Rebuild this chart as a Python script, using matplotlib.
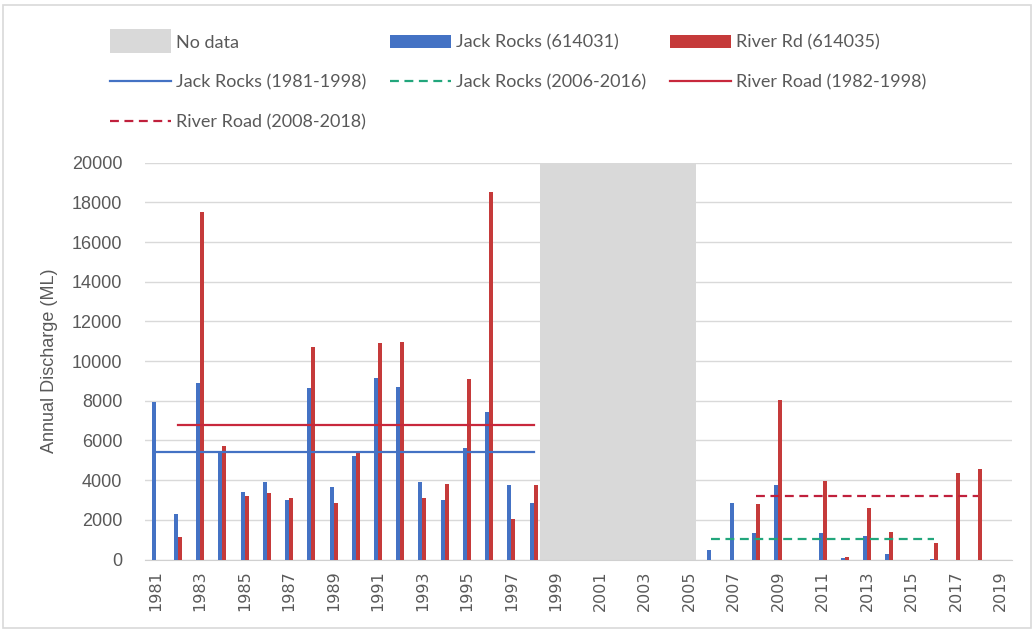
import numpy as np
import matplotlib
matplotlib.use("Agg")
import matplotlib.pyplot as plt
from matplotlib.patches import Patch, Rectangle
from matplotlib.legend_handler import HandlerPatch

nan = np.nan

years = list(range(1981, 2020))

# annual discharge (ML)
jack_rocks = [7950, 2300, 8900, 5400, 3400, 3900, 3000, 8650, 3650, 5200,
              9150, 8700, 3900, 3000, 5600, 7450, 3750, 2850,
              nan, nan, nan, nan, nan, nan, nan,
              470, 2850, 1360, 3750, nan, 1360, 60, 1200, 300, nan, 50,
              nan, nan, nan]
river_rd = [nan, 1150, 17500, 5700, 3200, 3350, 3100, 10700, 2850, 5400,
            10900, 10950, 3100, 3800, 9100, 18500, 2050, 3750,
            nan, nan, nan, nan, nan, nan, nan,
            nan, nan, 2800, 8050, nan, 3970, 110, 2620, 1400, nan, 840,
            4370, 4540, nan]

no_data_years = [1999, 2000, 2001, 2002, 2003, 2004, 2005]
no_data_value = 20000

# period means (horizontal reference lines)
means = [
    ("Jack Rocks (1981-1998)", 1981, 1998, 5400, "#4472C4", "-"),
    ("Jack Rocks (2006-2016)", 2006, 2016, 1030, "#22A67C", "--"),
    ("River Road (1982-1998)", 1982, 1998, 6770, "#C8283C", "-"),
    ("River Road (2008-2018)", 2008, 2018, 3190, "#C0203C", "--"),
]

blue = "#4472C4"
red = "#C53A3A"
grey_fill = "#D9D9D9"
text_col = "#595959"

fig = plt.figure(figsize=(10.36, 6.3), dpi=100)
ax = fig.add_axes([0.1396, 0.1119, 0.8368, 0.6298])

x = np.arange(len(years))
w = 0.18

nd_idx = [years.index(y) for y in no_data_years]
ax.bar(np.array(nd_idx) - 0.2, [no_data_value] * len(nd_idx), width=1.0,
       color=grey_fill, zorder=1)
ax.bar(x - w / 2, jack_rocks, width=w, color=blue, zorder=3)
ax.bar(x + w / 2, river_rd, width=w, color=red, zorder=3)

line_handles = {}
for label, y0, y1, val, col, ls in means:
    idx = np.arange(years.index(y0), years.index(y1) + 1)
    kw = dict(color=col, lw=1.6, zorder=4)
    if ls == "--":
        kw["dashes"] = (4, 2.5)
    ln, = ax.plot(idx, [val] * len(idx), **kw)
    line_handles[label] = ln

ax.set_xlim(-0.5, len(years) - 0.5)
ax.set_ylim(0, 20000)
ax.set_yticks(np.arange(0, 20001, 2000))
ax.set_xticks(x[::2])
ax.set_xticklabels([str(y) for y in years[::2]], rotation=90,
                   fontsize=11.5, color=text_col, family="DejaVu Sans")
ax.tick_params(axis="x", length=0, pad=8)
ax.tick_params(axis="y", length=0, pad=16, labelcolor=text_col)
for lab in ax.get_yticklabels():
    lab.set_family("Liberation Sans")
    lab.set_fontsize(13)

ax.grid(axis="y", color="#D9D9D9", lw=1.0, zorder=0)
ax.set_axisbelow(True)
for s in ["top", "right", "left"]:
    ax.spines[s].set_visible(False)
ax.spines["bottom"].set_color("#D0D0D0")

ax.set_ylabel("Annual Discharge (ML)", fontsize=13, color=text_col,
              family="Liberation Sans", labelpad=10)


def tall_patch(legend, orig_handle, xdescent, ydescent, width, height, fontsize):
    return Rectangle((-xdescent, -ydescent - 0.45 * height), width, 1.9 * height)


h_nd = Patch(facecolor=grey_fill, edgecolor="none")
h_jr = Patch(facecolor=blue, edgecolor="none")
h_rr = Patch(facecolor=red, edgecolor="none")
handles = [h_nd, line_handles["Jack Rocks (1981-1998)"], line_handles["River Road (2008-2018)"],
           h_jr, line_handles["Jack Rocks (2006-2016)"],
           h_rr, line_handles["River Road (1982-1998)"]]
labels = ["No data", "Jack Rocks (1981-1998)", "River Road (2008-2018)",
          "Jack Rocks (614031)", "Jack Rocks (2006-2016)",
          "River Rd (614035)", "River Road (1982-1998)"]
leg = fig.legend(handles, labels, ncol=3, loc="upper left",
                 bbox_to_anchor=(0.106, 0.945), frameon=False,
                 borderpad=0, borderaxespad=0, handlelength=3.4,
                 handletextpad=0.28, labelspacing=1.32, columnspacing=1.3,
                 handler_map={h_nd: HandlerPatch(patch_func=tall_patch)},
                 prop={"family": ["Lato", "DejaVu Sans"], "size": 13})
for t in leg.get_texts():
    t.set_color(text_col)

# chart-area border
fig.add_artist(Rectangle((0.003, 0.003), 0.992, 0.989, transform=fig.transFigure,
                         fill=False, edgecolor="#D9D9D9", lw=1.2))

fig.savefig("out.png", dpi=100)
